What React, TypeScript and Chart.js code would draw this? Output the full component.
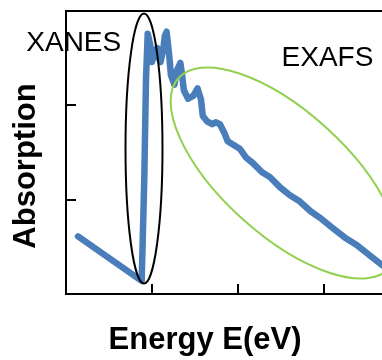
import React, { useEffect, useRef } from "react";
import { Chart, registerables } from "chart.js";

Chart.register(...registerables);

// Energy (x, arbitrary units; ticks every 1) and absorption (y, arbitrary units)
const energy = [
  0.14, 0.88, 0.91, 0.93, 0.95, 0.98, 1.0, 1.03, 1.06, 1.08, 1.1, 1.13, 1.15, 1.17,
  1.2, 1.22, 1.26, 1.29, 1.33, 1.35, 1.37, 1.42, 1.48, 1.53, 1.57, 1.59, 1.64, 1.7,
  1.74, 1.79, 1.84, 1.88, 1.95, 2.02, 2.09, 2.17, 2.28, 2.37, 2.49, 2.6, 2.72, 2.84,
  2.95, 3.1, 3.24, 3.38, 3.53, 3.67, 3.83,
];
const absorption = [
  0.61, 0.14, 1.21, 2.27, 2.76, 2.64, 2.46, 2.56, 2.61, 2.5, 2.46, 2.59, 2.74, 2.78,
  2.53, 2.32, 2.22, 2.37, 2.45, 2.32, 2.16, 2.07, 2.1, 2.18, 2.06, 1.89, 1.83, 1.8,
  1.82, 1.8, 1.71, 1.62, 1.58, 1.54, 1.45, 1.39, 1.29, 1.24, 1.13, 1.05, 0.98, 0.88,
  0.81, 0.7, 0.6, 0.52, 0.41, 0.31, 0.21,
];

const xTitle = "Energy E(eV)";
const yTitle = "Absorption";

// Region annotations (in data units)
const regionNames = ["XANES", "EXAFS"];
const regionLabelX = [0.09, 3.04];
const regionLabelY = [2.66, 2.5];
const regionCenterX = [0.907, 2.535];
const regionCenterY = [1.542, 1.283];
const regionRadiusX = [0.215, 1.651]; // x-axis units
const regionRadiusY = [1.431, 0.657]; // y-axis units
const regionAngle = [0, 42];
const regionColor = ["#000000", "#92D050"];

const FONT = '"Liberation Sans", Arial, sans-serif';

const regionPlugin = {
  id: "regions",
  afterDatasetsDraw(chart: any) {
    const { ctx } = chart;
    const xs = chart.scales.x;
    const ys = chart.scales.y;
    ctx.save();
    for (let i = 0; i < regionNames.length; i++) {
      const cx = xs.getPixelForValue(regionCenterX[i]);
      const cy = ys.getPixelForValue(regionCenterY[i]);
      const rx = Math.abs(xs.getPixelForValue(regionCenterX[i] + regionRadiusX[i]) - cx);
      const ry = Math.abs(ys.getPixelForValue(regionCenterY[i] + regionRadiusY[i]) - cy);
      ctx.beginPath();
      ctx.ellipse(cx, cy, rx, ry, (regionAngle[i] * Math.PI) / 180, 0, Math.PI * 2);
      ctx.strokeStyle = regionColor[i];
      ctx.lineWidth = 2;
      ctx.stroke();
    }
    ctx.fillStyle = "#000";
    ctx.font = `28px ${FONT}`;
    ctx.textAlign = "center";
    ctx.textBaseline = "middle";
    for (let i = 0; i < regionNames.length; i++) {
      ctx.fillText(regionNames[i], xs.getPixelForValue(regionLabelX[i]), ys.getPixelForValue(regionLabelY[i]));
    }
    ctx.restore();
  },
};

export default function App() {
  const ref = useRef<HTMLCanvasElement | null>(null);

  useEffect(() => {
    if (!ref.current) return;
    const axisGrid = {
      drawOnChartArea: false,
      drawTicks: true,
      tickLength: -10,
      color: "#000",
      lineWidth: 2,
    };
    const axisBorder = { display: true, color: "#000", width: 2 };
    const chart = new Chart(ref.current, {
      type: "line",
      data: {
        datasets: [
          {
            data: energy.map((e, i) => ({ x: e, y: absorption[i] })),
            borderColor: "#4A7EBB",
            borderWidth: 6.5,
            pointRadius: 0,
            tension: 0,
            borderJoinStyle: "round",
            borderCapStyle: "round",
            fill: false,
          },
        ],
      },
      options: {
        animation: false,
        responsive: false,
        layout: { padding: { left: 0, right: 22, top: 0, bottom: 0 } },
        plugins: {
          legend: { display: false },
          tooltip: { enabled: false },
          title: {
            display: true,
            position: "bottom",
            text: xTitle,
            color: "#000",
            fullSize: true,
            font: { family: FONT, size: 31, weight: "bold", lineHeight: 1 },
            padding: { top: 0, bottom: 0 },
          },
          subtitle: {
            display: true,
            position: "left",
            text: yTitle,
            color: "#000",
            fullSize: true,
            font: { family: FONT, size: 31, weight: "bold", lineHeight: 1 },
            padding: { top: 10.5, bottom: 0 },
          },
        },
        scales: {
          x: {
            type: "linear",
            position: "bottom",
            min: 0,
            max: 4,
            ticks: { display: false, stepSize: 1 },
            grid: axisGrid,
            border: axisBorder,
            afterFit(s: any) {
              s.height = 31;
            },
          },
          x2: {
            type: "linear",
            position: "top",
            min: 0,
            max: 4,
            ticks: { display: false, stepSize: 1 },
            grid: { display: false },
            border: axisBorder,
            afterFit(s: any) {
              s.height = 35;
            },
          },
          y: {
            type: "linear",
            min: 0,
            max: 3,
            ticks: { display: false, stepSize: 1 },
            grid: axisGrid,
            border: axisBorder,
            afterFit(s: any) {
              s.width = 24.5;
            },
          },
        },
      } as any,
      plugins: [regionPlugin],
    });
    return () => chart.destroy();
  }, []);

  return (
    <div
      style={{
        position: "fixed",
        left: 0,
        top: 0,
        width: 382,
        height: 360,
        overflow: "hidden",
        background: "#fff",
      }}
    >
      <canvas
        ref={ref}
        width={432}
        height={380}
        style={{ position: "absolute", left: 0, top: -24, width: 432, height: 380 }}
      />
    </div>
  );
}
